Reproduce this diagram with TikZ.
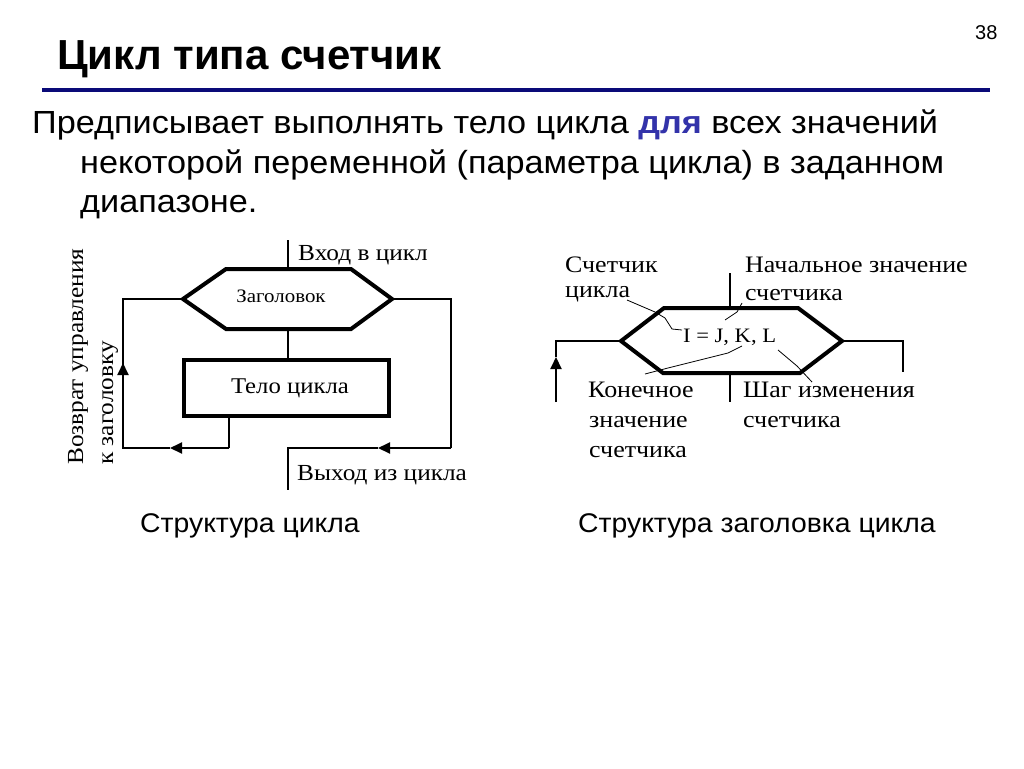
\documentclass[tikz,border=0pt]{standalone}
\usepackage{fontspec}
\setmainfont{Liberation Sans}
\newfontfamily\dserif[FakeStretch=1.1]{Liberation Serif}
\newfontfamily\bodyfont[FakeStretch=1.07]{Liberation Sans}
\newfontfamily\capfont[FakeStretch=1.05]{Liberation Sans}
\usetikzlibrary{arrows.meta}
\definecolor{navyline}{RGB}{10,10,120}
\definecolor{dlyablue}{RGB}{51,51,170}
\newcommand{\fsz}[1]{\fontsize{#1}{#1}\selectfont}
\tikzset{
  conn/.style={line width=2pt, line join=miter},
  heavy/.style={line width=4pt, line join=miter},
  leader/.style={line width=0.8pt},
  tipped/.style={conn, -{Triangle[length=12pt,width=11pt]}},
  dlabel/.style={anchor=base west, inner sep=0pt, font=\dserif\fsz{23}},
  rlabel/.style={anchor=base west, inner sep=0pt, font=\dserif\fsz{23.6}},
  slabel/.style={anchor=base west, inner sep=0pt},
}
\begin{document}
\begin{tikzpicture}[x=1pt,y=-1pt]
\useasboundingbox (0,0) rectangle (1024,768);
% ---------- header ----------
\node[slabel, font=\bfseries\fsz{42}] (title) at (57,70) {Цикл типа счетчик};
\node[slabel, font=\fsz{20}] (pnum) at (975,40) {38};
\coordinate (lineL) at (42,90);
\coordinate (lineR) at (990,90);
\draw[line width=4pt, navyline] (lineL) -- (lineR);
\node[slabel, font=\bodyfont\fsz{32}] (body1) at (32,133) {Предписывает выполнять тело цикла \textcolor{dlyablue}{\bfseries для} всех значений};
\node[slabel, font=\bodyfont\fsz{32}] (body2) at (80,173) {некоторой переменной (параметра цикла) в заданном};
\node[slabel, font=\bodyfont\fsz{32}] (body3) at (80,212) {диапазоне.};
% ---------- left diagram ----------
\coordinate (hL) at (183,299);
\coordinate (hTL) at (226,269);
\coordinate (hTR) at (351,269);
\coordinate (hR) at (392,299);
\coordinate (hBR) at (351,329);
\coordinate (hBL) at (226,329);
\draw[heavy] (hL) -- (hTL) -- (hTR) -- (hR) -- (hBR) -- (hBL) -- cycle;
\node[anchor=base, inner sep=0pt, font=\dserif\fsz{19}] (hdrtext) at (281,302) {Заголовок};
\coordinate (entry) at (288,240);
\coordinate (hTop) at (288,269);
\coordinate (hBot) at (288,329);
\draw[conn] (entry) -- (hTop);
\node[draw, heavy, minimum width=205pt, minimum height=56pt, inner sep=0pt] (bodybox) at (286.5,388) {};
\node[anchor=base, inner sep=0pt, font=\dserif\fsz{22.5}] (bodytext) at (290,393) {Тело цикла};
\coordinate (bTop) at (288,360);
\draw[conn] (hBot) -- (bTop);
% return loop
\coordinate (bOut) at (229,416);
\coordinate (rC1) at (229,448);
\coordinate (rTip1) at (170,448);
\coordinate (rC2) at (123,448);
\coordinate (rTip2) at (123,363);
\coordinate (rC3) at (123,299);
\draw[conn] (bOut) -- (rC1);
\draw[tipped] (rC1) -- (rTip1);
\draw[conn] (rTip1) -- (rC2) -- (rTip2);
\draw[tipped] (rC2) -- (rTip2);
\draw[conn] (rTip2) -- (rC3) -- (hL);
% exit
\coordinate (eC1) at (451,299);
\coordinate (eC2) at (451,448);
\coordinate (eTip) at (378,448);
\coordinate (eC3) at (288,448);
\coordinate (eEnd) at (288,490);
\draw[conn] (hR) -- (eC1) -- (eC2);
\draw[tipped] (eC2) -- (eTip);
\draw[conn] (eTip) -- (eC3) -- (eEnd);
\node[dlabel] (inlab) at (298,260) {Вход в цикл};
\node[dlabel] (outlab) at (297,480) {Выход из цикла};
\node[dlabel, rotate=90] (ret1) at (83,465) {Возврат управления};
\node[dlabel, rotate=90] (ret2) at (113,465) {к заголовку};
% ---------- right diagram ----------
\coordinate (gL) at (621,341);
\coordinate (gTL) at (664,308);
\coordinate (gTR) at (798,308);
\coordinate (gR) at (842,341);
\coordinate (gBR) at (800,373);
\coordinate (gBL) at (663,373);
\draw[heavy] (gL) -- (gTL) -- (gTR) -- (gR) -- (gBR) -- (gBL) -- cycle;
\coordinate (gTop1) at (730,273);
\coordinate (gTop2) at (730,308);
\coordinate (gBot1) at (730,373);
\coordinate (gBot2) at (730,402);
\draw[conn] (gTop1) -- (gTop2);
\draw[conn] (gBot1) -- (gBot2);
\coordinate (gLC) at (556,341);
\coordinate (gLTip) at (556,357);
\coordinate (gLEnd) at (556,402);
\draw[conn] (gL) -- (gLC) -- (gLTip);
\draw[tipped] (gLEnd) -- (gLTip);
\coordinate (gRC) at (903,341);
\coordinate (gREnd) at (903,372);
\draw[conn] (gR) -- (gRC) -- (gREnd);
\node[rlabel, font=\dserif\fsz{20.5}] (formula) at (683,342) {I = J, K, L};
\node[rlabel] (cnt1) at (565,272) {Счетчик};
\node[rlabel] (cnt2) at (565,297) {цикла};
\node[rlabel] (ini1) at (745,272) {Начальное значение};
\node[rlabel] (ini2) at (745,300) {счетчика};
\node[rlabel] (fin1) at (588,397) {Конечное};
\node[rlabel] (fin2) at (589,427) {значение};
\node[rlabel] (fin3) at (589,457) {счетчика};
\node[rlabel] (stp1) at (743,397) {Шаг изменения};
\node[rlabel] (stp2) at (743,427) {счетчика};
% leaders
\draw[leader] (627,300) -- (655,312) -- (665,318) -- (672,329) -- (682,330);
\draw[leader] (742,303) -- (737,312) -- (725,320);
\draw[leader] (742,346) -- (728,353) -- (668,368) -- (645,374);
\draw[leader] (778,350) -- (797,366) -- (812,382);
% ---------- captions ----------
\node[slabel, font=\capfont\fsz{27}] (cap1) at (140,532) {Структура цикла};
\node[slabel, font=\capfont\fsz{27}] (cap2) at (578,532) {Структура заголовка цикла};
\end{tikzpicture}
\end{document}
